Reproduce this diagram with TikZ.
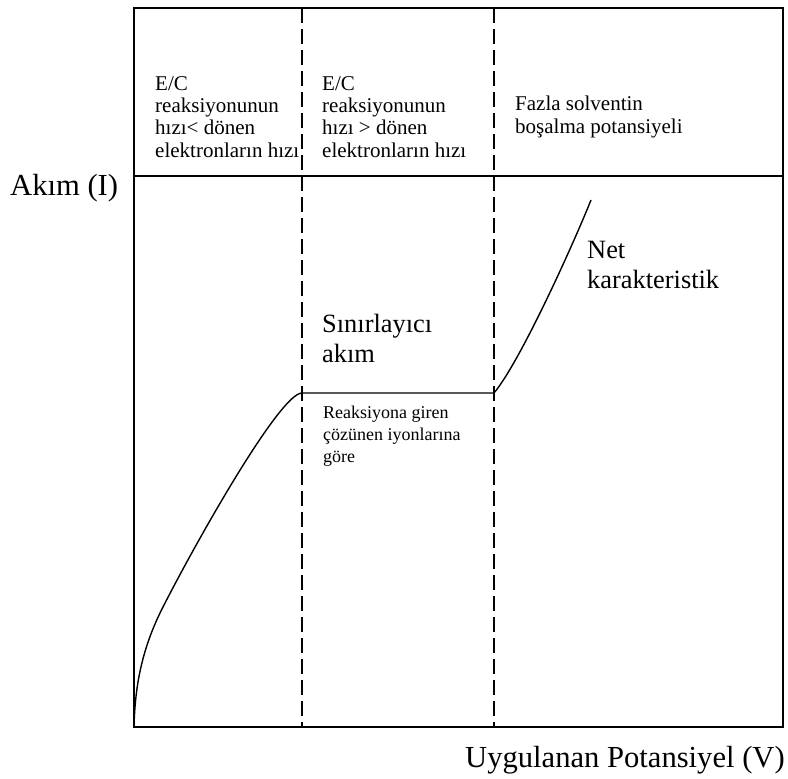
\documentclass[tikz,border=0pt]{standalone}
\usepackage{fontspec}
\setmainfont{Liberation Serif}
\usetikzlibrary{positioning}

\begin{document}
\begin{tikzpicture}[x=1pt,y=-1pt,
    frame/.style={line width=1.6pt},
    divider/.style={line width=1.6pt, dash pattern=on 15pt off 6pt},
    curve/.style={line width=1.4pt, line join=round},
    head/.style={anchor=base west, inner sep=0pt, align=left, font=\fontsize{21}{22.3}\selectfont},
    note/.style={anchor=base west, inner sep=0pt, align=left, font=\fontsize{18}{22}\selectfont},
    big/.style={anchor=base west, inner sep=0pt, align=left, font=\fontsize{26.4}{29.5}\selectfont},
    axislabel/.style={anchor=base west, inner sep=0pt, font=\fontsize{30.6}{33}\selectfont},
]
\useasboundingbox (0,0) rectangle (788,779);

% frame and regions
\coordinate (tl) at (134,8);
\coordinate (br) at (783,727);
\draw[frame] (tl) rectangle (br);
\draw[frame] (134,176) -- (783,176);
\draw[divider] (302,8) -- (302,727);
\draw[divider] (494,8) -- (494,727);

% region headings (anchored on the last line)
\node[head] (hslow) at (155,157) {E/C\\reaksiyonunun\\hızı< dönen\\elektronların hızı};
\node[head] (hfast) at (322,157) {E/C\\reaksiyonunun\\hızı > dönen\\elektronların hızı};
\node[head] (hsolv) at (515,133) {Fazla solventin\\boşalma potansiyeli};

% current curve
\coordinate (origin) at (134,727);
\coordinate (bend) at (163,607);
\coordinate (kneeA) at (302,393);
\coordinate (kneeB) at (494,393);
\coordinate (top) at (591,200);
\draw[curve] (origin) .. controls (135,688) and (141,650) .. (bend)
  .. controls (196,542) and (280,393) .. (kneeA) -- (kneeB)
  .. controls (520,362) and (573,245) .. (top);

% labels
\node[big] (limit) at (322,362) {Sınırlayıcı\\akım};
\node[note] (ions) at (323,462) {Reaksiyona giren\\çözünen iyonlarına\\göre};
\node[big] (net) at (587,288) {Net\\karakteristik};

% axes
\node[axislabel] (ylab) at (10,195) {Akım (I)};
\node[axislabel] (xlab) at (465,767) {Uygulanan Potansiyel (V)};
\end{tikzpicture}
\end{document}
